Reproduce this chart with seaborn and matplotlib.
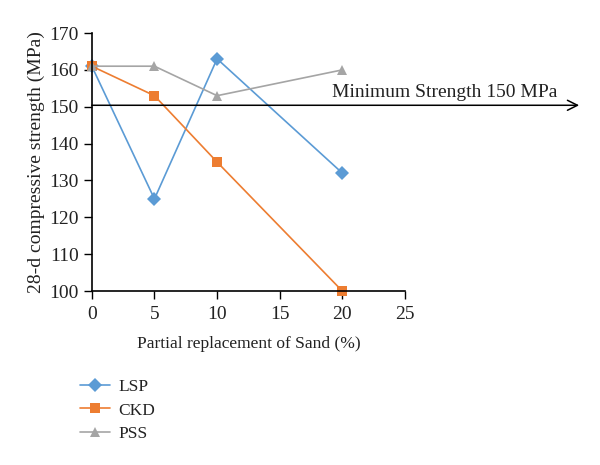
import numpy as np
import pandas as pd
import seaborn as sns
import matplotlib.pyplot as plt

replacement = [0, 5, 10, 20]
lsp = [161, 125, 163, 132]
ckd = [161, 153, 135, 100]
pss = [161, 161, 153, 160]
series_names = ["LSP", "CKD", "PSS"]
colors = {"LSP": "#5B9BD5", "CKD": "#ED7D31", "PSS": "#A5A5A5"}
markers = {"LSP": "D", "CKD": "s", "PSS": "^"}
min_strength = 150.4

df = pd.DataFrame({
    "x": replacement * 3,
    "y": lsp + ckd + pss,
    "mix": [n for n in series_names for _ in replacement],
})

sns.set_style("white")
plt.rcParams["font.family"] = ["Liberation Serif", "DejaVu Serif"]

fig = plt.figure(figsize=(6, 4.65), dpi=100)
ax = fig.add_axes([0.153, 0.374, 0.522, 0.555])

sns.lineplot(data=df, x="x", y="y", hue="mix", style="mix", palette=colors,
             markers=markers, dashes=False, markersize=7.5, linewidth=1.2,
             markeredgewidth=0, ax=ax, legend=False)
for ln in ax.lines:
    ln.set_clip_on(False)

ax.set_xlim(0, 25)
ax.set_ylim(100, 170)
ax.set_xticks([0, 5, 10, 15, 20, 25])
ax.set_yticks(np.arange(100, 171, 10))
ax.tick_params(axis="both", direction="out", length=6, width=1, labelsize=14,
               bottom=True, left=True, color="black", labelcolor="#222222")
ax.tick_params(axis="x", pad=5)
for s in ["top", "right"]:
    ax.spines[s].set_visible(False)
for s in ["left", "bottom"]:
    ax.spines[s].set_color("black")
    ax.spines[s].set_linewidth(1.2)

ax.set_xlabel("Partial replacement of Sand (%)", fontsize=12.5, color="#222222", labelpad=9)
ax.set_ylabel("28-d compressive strength (MPa)", fontsize=14, color="#222222", labelpad=3)

# threshold arrow running past the plot area
ax.annotate("", xy=(38.9, min_strength), xytext=(0, min_strength),
            arrowprops=dict(arrowstyle="->", color="black", lw=1.1,
                            mutation_scale=18, shrinkA=0, shrinkB=0),
            annotation_clip=False)
ax.text(28.2, 152.7, "Minimum Strength 150 MPa", ha="center", va="baseline",
        fontsize=14, color="#222222", clip_on=False)

handles = [plt.Line2D([], [], color=colors[n], marker=markers[n], markersize=7.5,
                      markeredgewidth=0, lw=1.2) for n in series_names]
fig.legend(handles, series_names, loc="upper left", bbox_to_anchor=(0.122, 0.2),
           frameon=False, fontsize=12.5, handlelength=1.7, handletextpad=0.5,
           labelspacing=0.42, labelcolor="#222222", borderaxespad=0)

fig.savefig("out.png", dpi=100)
